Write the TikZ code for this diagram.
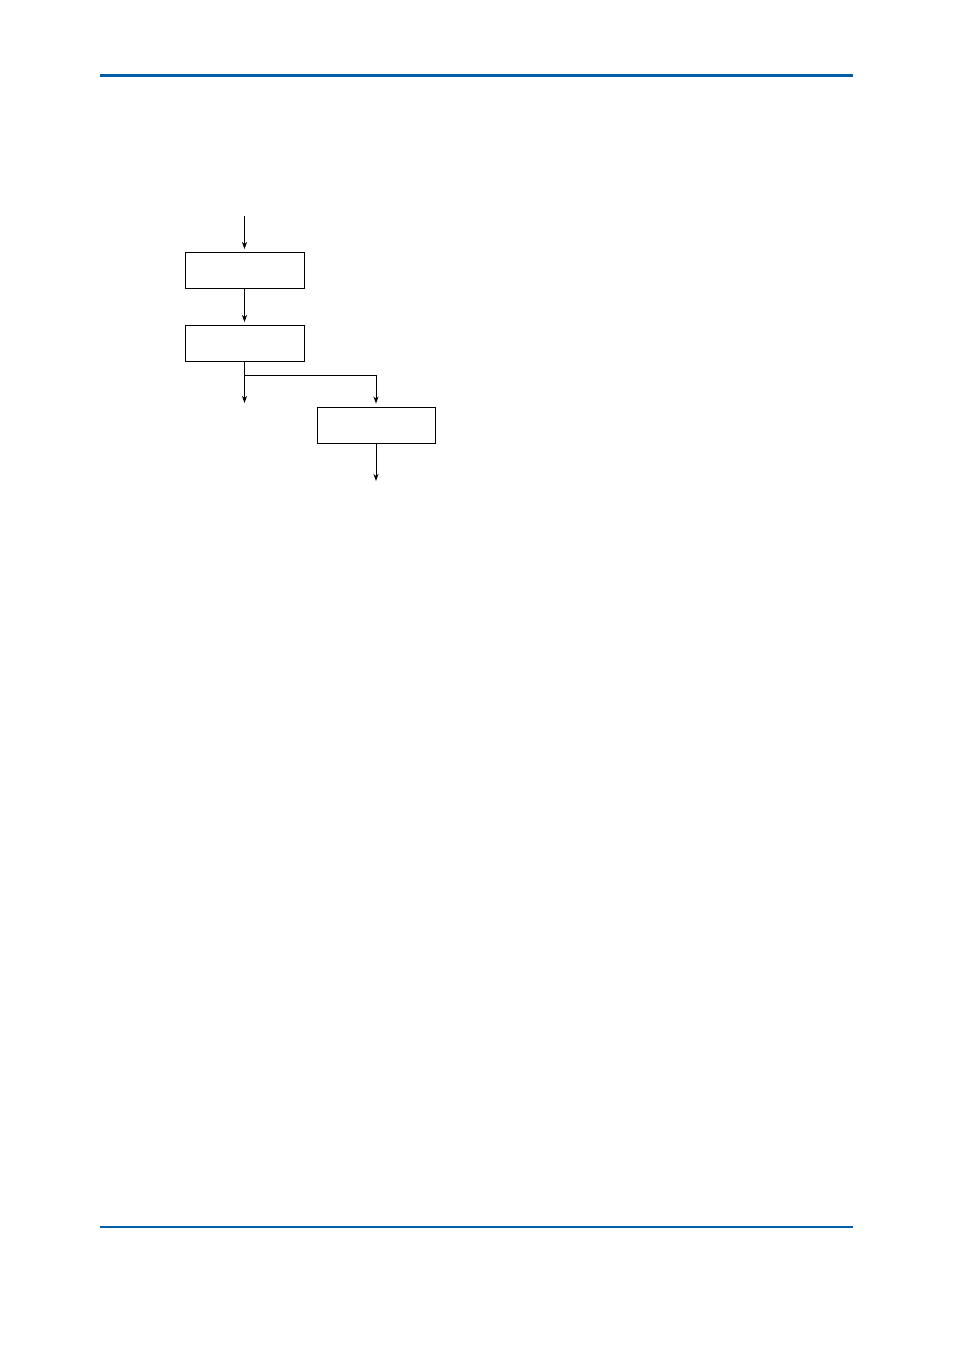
\documentclass[tikz,border=0pt]{standalone}
\usetikzlibrary{arrows.meta}
\definecolor{rulecol}{RGB}{0,94,168}
\begin{document}
\begin{tikzpicture}[x=1pt,y=-1pt,
  boxstyle/.style={draw,line width=0.9pt,minimum width=119pt,minimum height=36pt,inner sep=0pt},
  arr/.style={line width=0.9pt,-{Stealth[length=7pt,width=5pt,inset=2pt]},shorten >=3pt},
  ln/.style={line width=0.9pt}]
\useasboundingbox (0,0) rectangle (954,1350);
\fill[rulecol] (100,73.5) rectangle (853,76.5) coordinate (topr);
\fill[rulecol] (100,1226) rectangle (853,1228) coordinate (botr);
\node[boxstyle] (b1) at (244.5,270.5) {};
\node[boxstyle] (b2) at (244.5,343.5) {};
\node[boxstyle,minimum width=118pt] (b3) at (376,425) {};
\coordinate (in) at (244.5,216);
\coordinate (br) at (244.5,375);
\coordinate (brr) at (376,375);
\coordinate (out1) at (244.5,406);
\coordinate (out2) at (376,484);
\draw[arr] (in) -- (b1.north);
\draw[arr] (b1.south) -- (b2.north);
\draw[arr] (b2.south) -- (out1);
\draw[ln] (br) -- (brr);
\draw[arr] (brr) -- (b3.north);
\draw[arr] (b3.south) -- (out2);
\end{tikzpicture}
\end{document}
